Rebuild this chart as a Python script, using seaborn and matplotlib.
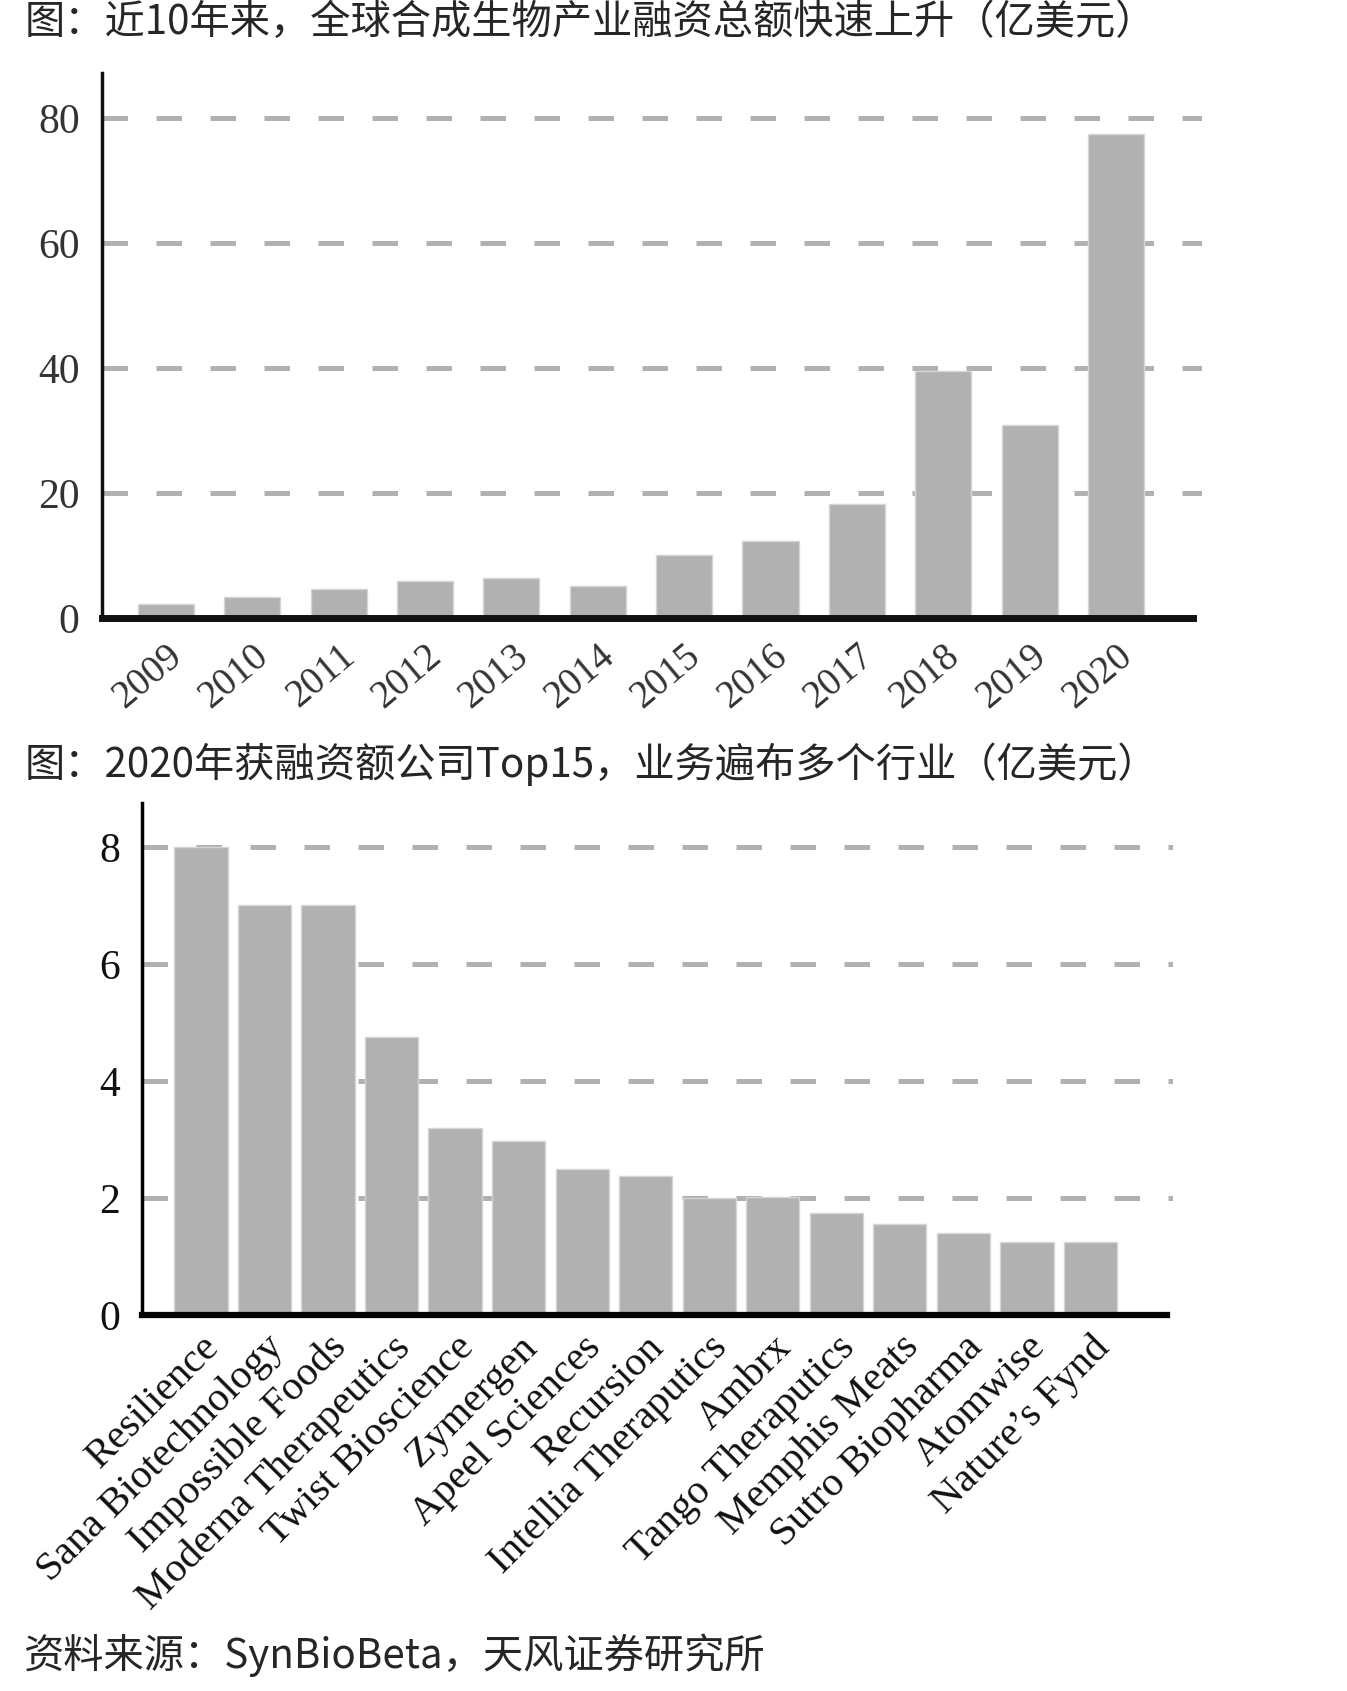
import numpy as np
import pandas as pd
import matplotlib
matplotlib.use("Agg")
import matplotlib.pyplot as plt
import seaborn as sns

# 全球合成生物产业融资总额（亿美元）
years = ['2009', '2010', '2011', '2012', '2013', '2014', '2015', '2016',
         '2017', '2018', '2019', '2020']
funding = [2.2, 3.4, 4.6, 6.0, 6.4, 5.1, 10.1, 12.3, 18.2, 39.5, 30.9, 77.5]

# 2020年获融资额公司Top15（亿美元）
companies = ['Resilience', 'Sana Biotechnology', 'Impossible Foods',
             'Moderna Therapeutics', 'Twist Bioscience', 'Zymergen',
             'Apeel Sciences', 'Recursion', 'Intellia Theraputics', 'Ambrx',
             'Tango Theraputics', 'Memphis Meats', 'Sutro Biopharma',
             'Atomwise', 'Nature\u2019s Fynd']
amounts = [8.0, 7.0, 7.0, 4.75, 3.2, 2.97, 2.5, 2.37, 2.0, 2.02, 1.75, 1.56,
           1.4, 1.24, 1.24]

title1 = '图：近10年来，全球合成生物产业融资总额快速上升（亿美元）'
title2 = '图：2020年获融资额公司Top15，业务遍布多个行业（亿美元）'
source = '资料来源：SynBioBeta，天风证券研究所'

sns.set_style('white')
plt.rcParams['font.family'] = ['Noto Sans CJK SC', 'DejaVu Sans']
plt.rcParams['lines.dash_capstyle'] = 'butt'

bar_color = '#b1b1b1'
grid_color = '#b1b1b1'
serif = ['Liberation Serif', 'DejaVu Serif']
dash = (0, (5.1, 5.7))

fig = plt.figure(figsize=(13.47, 16.91), dpi=100)

df1 = pd.DataFrame({'year': years, 'value': funding})
df2 = pd.DataFrame({'company': companies, 'value': amounts})

# ---- top chart
ax1 = fig.add_axes([0.0757, 0.6345, 0.817, 0.3223])
sns.barplot(data=df1, x='year', y='value', color=bar_color, width=0.65,
            saturation=1, edgecolor='#d6d6d6', linewidth=1, ax=ax1, zorder=2)
ax1.set_xlim(-0.74, 12.0)
ax1.set_ylim(0, 87.2)
ax1.set_yticks([0, 20, 40, 60, 80])
for y in [20, 40, 60, 80]:
    ax1.axhline(y, color=grid_color, lw=3.6, ls=dash, zorder=1)
ax1.set_xlabel('')
ax1.set_ylabel('')
for s in ['top', 'right']:
    ax1.spines[s].set_visible(False)
ax1.spines['left'].set_linewidth(2.5)
ax1.spines['left'].set_color('#111111')
ax1.spines['bottom'].set_linewidth(5)
ax1.spines['bottom'].set_color('#111111')
ax1.spines['bottom'].set_bounds(-0.74, 11.89)
ax1.tick_params(axis='both', length=0)
ax1.tick_params(axis='y', pad=16)
ax1.tick_params(axis='x', pad=14)
for lab in ax1.get_yticklabels():
    lab.set_family(serif)
    lab.set_fontsize(30)
    lab.set_color('#333333')
for lab in ax1.get_xticklabels():
    lab.set_family(serif)
    lab.set_fontsize(28)
    lab.set_color('#333333')
    lab.set_rotation(40)
    lab.set_ha('right')
    lab.set_rotation_mode('anchor')

# ---- bottom chart
ax2 = fig.add_axes([0.1054, 0.2224, 0.7654, 0.3028])
sns.barplot(data=df2, x='company', y='value', color=bar_color, width=0.84,
            saturation=1, edgecolor='#d6d6d6', linewidth=1, ax=ax2, zorder=2)
ax2.set_xlim(-0.93, 15.3)
ax2.set_ylim(0, 8.75)
ax2.set_yticks([0, 2, 4, 6, 8])
for y in [2, 4, 6, 8]:
    ax2.axhline(y, color=grid_color, lw=3.6, ls=dash, zorder=1)
ax2.set_xlabel('')
ax2.set_ylabel('')
for s in ['top', 'right']:
    ax2.spines[s].set_visible(False)
ax2.spines['left'].set_linewidth(2.5)
ax2.spines['left'].set_color('#000000')
ax2.spines['bottom'].set_linewidth(4.5)
ax2.spines['bottom'].set_color('#000000')
ax2.spines['bottom'].set_bounds(-0.93, 15.2)
ax2.tick_params(axis='both', length=0)
ax2.tick_params(axis='y', pad=16)
ax2.tick_params(axis='x', pad=10)
for lab in ax2.get_yticklabels():
    lab.set_family(serif)
    lab.set_fontsize(30)
    lab.set_color('#111111')
for lab in ax2.get_xticklabels():
    lab.set_family(serif)
    lab.set_fontsize(29.5)
    lab.set_color('#111111')
    lab.set_rotation(45)
    lab.set_ha('right')
    lab.set_rotation_mode('anchor')

# ---- texts
fig.text(0.018, 0.9865, title1, fontsize=29, va='center', ha='left')
fig.text(0.018, 0.548, title2, fontsize=29, va='center', ha='left')
fig.text(0.018, 0.021, source, fontsize=29, va='center', ha='left')

fig.savefig('out.png', dpi=100, facecolor='white')
